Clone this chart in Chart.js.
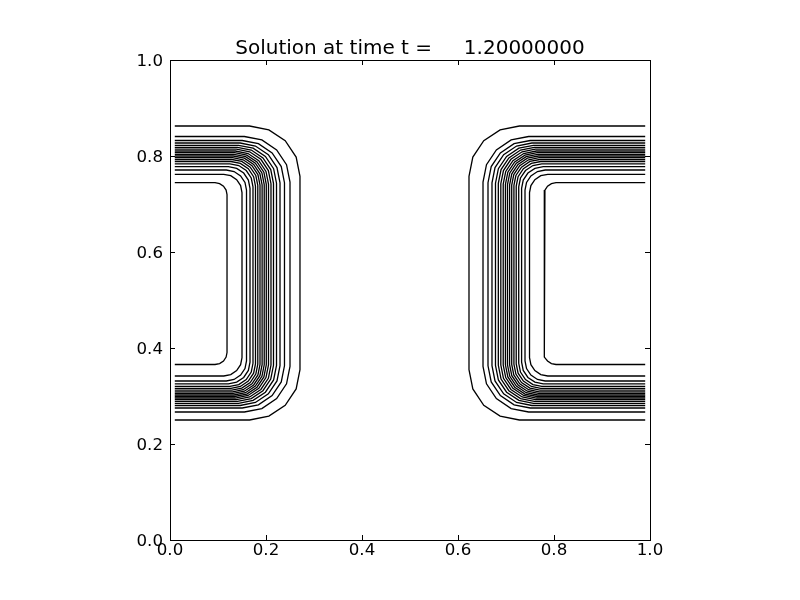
<!DOCTYPE html>
<html>
<head>
    <title>Solution at time t</title>
    <script src="https://cdn.jsdelivr.net/npm/chart.js"></script>
    <style>
        body { margin: 0; background: #fff; }
    </style>
</head>
<body>
    <canvas id="contourChart" width="800" height="600"></canvas>

    <script>
        // Title and axis ticks
        const titleText = 'Solution at time t =     1.20000000';
        const tickValues = [0.0, 0.2, 0.4, 0.6, 0.8, 1.0];
        const gridStart = 0.01;
        const gridEnd = 0.99;

        // Contour levels, outermost -> innermost
        const bandTop = [0.8625, 0.8406, 0.8323, 0.8271, 0.8223, 0.8181, 0.8142, 0.8104, 0.8069, 0.8035,
                         0.8000, 0.7965, 0.7927, 0.7885, 0.7838, 0.7777, 0.7708, 0.7619, 0.7444];
        const bandBottom = [0.2500, 0.2667, 0.2750, 0.2802, 0.2848, 0.2890, 0.2925, 0.2958, 0.2990, 0.3021,
                            0.3054, 0.3088, 0.3123, 0.3160, 0.3202, 0.3254, 0.3313, 0.3417, 0.3656];
        // x of the vertical part of the left blob
        const leftEdge = [0.2708, 0.2500, 0.2385, 0.2292, 0.2219, 0.2156, 0.2104, 0.2052, 0.2006, 0.1963,
                          0.1919, 0.1875, 0.1829, 0.1781, 0.1729, 0.1667, 0.1594, 0.1500, 0.1188];
        // x of the vertical part of the right blob
        const rightEdge = [0.6229, 0.6521, 0.6625, 0.6708, 0.6781, 0.6840, 0.6892, 0.6942, 0.6988, 0.7031,
                           0.7075, 0.7119, 0.7165, 0.7213, 0.7265, 0.7325, 0.7396, 0.7490, 0.7792];
        // corner rounding of each contour
        const cornerR = [0.105, 0.095, 0.088, 0.083, 0.079, 0.075, 0.072, 0.069, 0.066, 0.063,
                         0.060, 0.057, 0.054, 0.051, 0.048, 0.045, 0.042, 0.038, 0.025];

        function arc(cx, cy, r, a0, a1) {
            const pts = [];
            for (let k = 0; k <= 4; k++) {
                const a = (a0 + (a1 - a0) * k / 4) * Math.PI / 180;
                pts.push({ x: cx + r * Math.cos(a), y: cy + r * Math.sin(a) });
            }
            return pts;
        }

        const datasets = [];
        bandTop.forEach((yT, i) => {
            const yB = bandBottom[i];
            const r = cornerR[i];
            const xR = leftEdge[i];
            const xL = rightEdge[i];
            // left blob, open to the left
            datasets.push({
                data: [{ x: gridStart, y: yT }]
                    .concat(arc(xR - r, yT - r, r, 90, 0))
                    .concat(arc(xR - r, yB + r, r, 0, -90))
                    .concat([{ x: gridStart, y: yB }])
            });
            // right blob, open to the right
            datasets.push({
                data: [{ x: gridEnd, y: yT }]
                    .concat(arc(xL + r, yT - r, r, 90, 180))
                    .concat(arc(xL + r, yB + r, r, 180, 270))
                    .concat([{ x: gridEnd, y: yB }])
            });
        });
        datasets.forEach(ds => {
            ds.showLine = true;
            ds.borderColor = '#000';
            ds.borderWidth = 1.3;
            ds.pointRadius = 0;
            ds.tension = 0;
            ds.fill = false;
        });

        const tickFont = { family: 'DejaVu Sans', size: 16.67 };

        // frame, inward ticks on all four sides, title
        const framePlugin = {
            id: 'frame',
            afterDraw(chart) {
                const { ctx, chartArea: a, scales } = chart;
                ctx.save();
                ctx.strokeStyle = '#000';
                ctx.lineWidth = 1;
                ctx.strokeRect(a.left + 0.5, a.top + 0.5, a.right - a.left, a.bottom - a.top);
                ctx.beginPath();
                tickValues.forEach(v => {
                    const px = Math.round(scales.x.getPixelForValue(v)) + 0.5;
                    ctx.moveTo(px, a.bottom); ctx.lineTo(px, a.bottom - 5);
                    ctx.moveTo(px, a.top); ctx.lineTo(px, a.top + 5);
                    const py = Math.round(scales.y.getPixelForValue(v)) + 0.5;
                    ctx.moveTo(a.left, py); ctx.lineTo(a.left + 5, py);
                    ctx.moveTo(a.right, py); ctx.lineTo(a.right - 5, py);
                });
                ctx.stroke();
                ctx.fillStyle = '#000';
                ctx.font = '20px "DejaVu Sans"';
                ctx.textAlign = 'center';
                ctx.textBaseline = 'alphabetic';
                ctx.fillText(titleText, (a.left + a.right) / 2, 53.5);
                ctx.restore();
            }
        };

        new Chart(document.getElementById('contourChart').getContext('2d'), {
            type: 'scatter',
            data: { datasets: datasets },
            plugins: [framePlugin],
            options: {
                responsive: false,
                animation: false,
                layout: { padding: { left: 0, right: 150, top: 60, bottom: 0 } },
                plugins: { legend: { display: false }, tooltip: { enabled: false } },
                scales: {
                    x: {
                        type: 'linear', min: 0, max: 1,
                        afterFit(s) { s.height = 60; },
                        afterBuildTicks(s) { s.ticks = tickValues.map(v => ({ value: v })); },
                        ticks: { callback: v => v.toFixed(1), color: '#000', font: tickFont, padding: -7, maxRotation: 0, autoSkip: false },
                        grid: { display: false },
                        border: { display: false }
                    },
                    y: {
                        type: 'linear', min: 0, max: 1,
                        afterFit(s) { s.width = 170; },
                        afterBuildTicks(s) { s.ticks = tickValues.map(v => ({ value: v })); },
                        ticks: { callback: v => v.toFixed(1), color: '#000', font: tickFont, padding: -1, labelOffset: 1.5, autoSkip: false },
                        grid: { display: false },
                        border: { display: false }
                    }
                }
            }
        });
    </script>
</body>
</html>
